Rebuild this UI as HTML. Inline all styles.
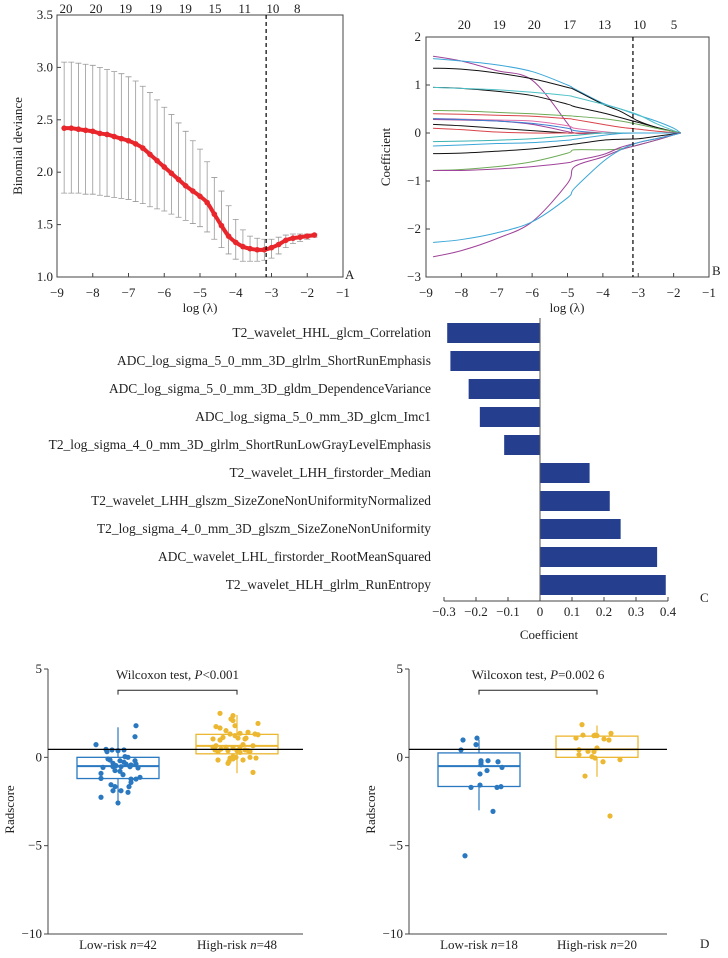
<!DOCTYPE html>
<html><head><meta charset="utf-8">
<style>
html,body{margin:0;padding:0;background:#fff}
svg{display:block}
text{font-family:"Liberation Serif",serif;fill:#222}
</style></head>
<body>
<svg id="fig" width="728" height="958" viewBox="0 0 728 958" xmlns="http://www.w3.org/2000/svg"></svg>
<script>
// ---------- Panel A data ----------
const aLambda=[-8.8,-8.6,-8.4,-8.2,-8.0,-7.8,-7.6,-7.4,-7.2,-7.0,-6.8,-6.6,-6.4,-6.2,-6.0,-5.8,-5.6,-5.4,-5.2,-5.0,-4.8,-4.6,-4.4,-4.2,-4.0,-3.8,-3.6,-3.4,-3.2,-3.0,-2.8,-2.6,-2.4,-2.2,-2.0,-1.8];
const aMean=[2.42,2.42,2.41,2.40,2.39,2.37,2.36,2.34,2.32,2.30,2.27,2.23,2.17,2.11,2.05,1.99,1.93,1.87,1.82,1.77,1.71,1.60,1.49,1.39,1.33,1.29,1.27,1.26,1.26,1.28,1.31,1.35,1.37,1.38,1.39,1.40];
const aUpper=[3.05,3.05,3.04,3.03,3.02,3.00,2.98,2.96,2.94,2.91,2.87,2.82,2.76,2.69,2.62,2.55,2.47,2.39,2.30,2.22,2.10,1.95,1.82,1.68,1.55,1.45,1.39,1.37,1.36,1.36,1.38,1.40,1.41,1.41,1.41,1.41];
const aLower=[1.80,1.80,1.80,1.79,1.79,1.78,1.77,1.76,1.75,1.74,1.72,1.70,1.67,1.65,1.63,1.60,1.57,1.54,1.51,1.48,1.43,1.36,1.28,1.22,1.17,1.15,1.15,1.15,1.16,1.18,1.22,1.28,1.32,1.34,1.36,1.38];
const aTopLabels=["20","20","19","19","19","15","11","10","8"];
const aTopPos=[-8.75,-7.91,-7.08,-6.24,-5.41,-4.58,-3.75,-2.96,-2.28];
const aYTicks=[1.0,1.5,2.0,2.5,3.0,3.5];
const xTicksLog=[-9,-8,-7,-6,-5,-4,-3,-2,-1];
const lambdaMin=-3.15;
// ---------- Panel B data ----------
const bLambda=[-8.8,-8,-7,-6,-5,-4.8,-4,-3.5,-3,-2.5,-2,-1.8];
const bColors=["#a0439a","#3ba6d8","#111","#111","#4cc1c6","#6dab57","#d9434a","#e06da8","#a0439a","#3a7fd0","#111","#d9434a","#3bb3b3","#3ba6d8","#111","#6dab57","#a0439a","#a0439a","#3ba6d8"];
const bPaths=[
[1.6,1.5,1.3,1.1,0.2,0,0,0,0,0,0,0],
[1.55,1.5,1.42,1.28,1.0,0.92,0.62,0.5,0.37,0.25,0.1,0],
[1.35,1.33,1.25,1.13,0.95,0.9,0.6,0.45,0.25,0.12,0.03,0],
[0.95,0.93,0.87,0.78,0.6,0.55,0.42,0.32,0.22,0.12,0.03,0],
[0.95,0.93,0.9,0.85,0.78,0.75,0.6,0.5,0.38,0.2,0.05,0],
[0.47,0.46,0.43,0.4,0.36,0.35,0.3,0.25,0.18,0.1,0.03,0],
[0.4,0.39,0.37,0.35,0.3,0.28,0.18,0.12,0.08,0.04,0.01,0],
[0.3,0.29,0.27,0.25,0.15,0.1,0.03,0,0,0,0,0],
[0.28,0.27,0.25,0.18,0.03,0,0,0,0,0,0,0],
[0.3,0.28,0.25,0.2,0.1,0.05,0,0,0,0,0,0],
[0.18,0.15,0.1,0.05,0,0,0,0,0,0,0,0],
[0.1,0.07,0.02,0,0,0,0,0,0,0,0,0],
[-0.18,-0.17,-0.15,-0.12,-0.06,-0.05,0,0,0,0,0,0],
[-0.27,-0.25,-0.22,-0.2,-0.15,-0.13,-0.05,-0.01,0,0,0,0],
[-0.43,-0.42,-0.38,-0.33,-0.25,-0.23,-0.15,-0.13,-0.12,-0.07,-0.02,0],
[-0.78,-0.76,-0.7,-0.6,-0.42,-0.35,-0.35,-0.33,-0.25,-0.15,-0.04,0],
[-0.78,-0.78,-0.75,-0.7,-0.62,-0.58,-0.45,-0.3,-0.2,-0.12,-0.03,0],
[-2.58,-2.45,-2.2,-1.85,-1.05,-0.7,-0.5,-0.35,-0.25,-0.15,-0.04,0],
[-2.28,-2.22,-2.08,-1.85,-1.35,-1.15,-0.6,-0.35,-0.2,-0.12,-0.04,0]];
const bTopLabels=["20","19","20","17","13","10","5"];
const bTopPos=[-7.92,-6.93,-5.94,-4.94,-3.95,-2.96,-1.99];
const bYTicks=[-3,-2,-1,0,1,2];
// ---------- Panel C data ----------
const cFeatures=["T2_wavelet_HHL_glcm_Correlation","ADC_log_sigma_5_0_mm_3D_glrlm_ShortRunEmphasis","ADC_log_sigma_5_0_mm_3D_gldm_DependenceVariance","ADC_log_sigma_5_0_mm_3D_glcm_Imc1","T2_log_sigma_4_0_mm_3D_glrlm_ShortRunLowGrayLevelEmphasis","T2_wavelet_LHH_firstorder_Median","T2_wavelet_LHH_glszm_SizeZoneNonUniformityNormalized","T2_log_sigma_4_0_mm_3D_glszm_SizeZoneNonUniformity","ADC_wavelet_LHL_firstorder_RootMeanSquared","T2_wavelet_HLH_glrlm_RunEntropy"];
const cValues=[-0.29,-0.28,-0.223,-0.188,-0.112,0.155,0.218,0.252,0.366,0.393];
const cTicks=[-0.3,-0.2,-0.1,0,0.1,0.2,0.3,0.4];
// ---------- Panel D data ----------
const d1LowVals=[1.79,1.17,0.72,0.45,0.32,0.42,0.38,0.42,-0.09,-0.15,0.04,0,-0.19,-0.34,-0.38,-0.57,-0.53,-0.47,-0.53,-0.38,-0.43,-0.6,-0.75,-0.79,-0.98,-0.91,-1.19,-1.23,-1.23,-1.13,-1.55,-1.66,-1.89,-1.89,-1.66,-1.98,-2.26,-2.58,-1.42,-0.28,-0.53,-0.19];
const d1LowJit=[18,17,-22,-12,-11,-6,0,6,-10,-8,7,10,17,-5,18,-15,-5,-2,3,8,13,20,-3,2,5,-17,-17,13,18,22,-7,-3,-5,3,11,10,-17,0,13,6,12,2];
const d1HighVals=[2.49,2.36,1.92,1.74,1.66,1.51,2.08,1.79,1.32,1.36,1.42,1.32,1.28,1.04,0.98,1.23,1.04,1.09,0.66,0.57,0.53,0.57,0.66,0.42,0.47,0.38,0.38,0.42,0.34,0.32,0.04,0.28,0.38,-0.04,0,-0.15,-0.04,-0.23,-0.15,-0.34,-0.09,-0.85,0,0.57,2.17,1.09,0.72,1.13];
const d1HighJit=[-17,-4,21,-21,-17,-11,-4,-2,-7,3,11,18,21,-24,-17,-2,8,9,-21,-11,-4,3,16,-22,-16,-9,0,8,13,-19,-4,3,11,-7,-1,6,19,-8,-19,-9,-4,16,13,-24,-6,1,6,-14];
const d2LowVals=[0.98,1.09,0.72,0.42,-0.28,-0.19,-0.19,-0.25,-0.42,-0.57,-0.75,-0.94,-1.57,-1.7,-1.7,-1.66,-3.06,-5.57];
const d2LowJit=[-16,-2,-3,-18,2,2,9,19,2,23,8,1,1,-8,18,22,14,-14];
const d2HighVals=[1.85,1.09,1.26,1.23,1.26,1.04,0.98,1.36,0.43,0.34,0.32,0.53,0.15,0.04,-0.04,-0.25,-0.13,-1.06,-3.32,1.23];
const d2HighJit=[-15,-21,-14,-3,-2,7,12,14,-18,-9,-3,0,-18,-5,-2,6,23,-12,13,0];
// box stats: [whiskerLow, q1, median, q3, whiskerHigh]
const d1LowBox=[-2.5,-1.2,-0.5,0,1.7];
const d1HighBox=[-0.9,0.2,0.65,1.3,2.4];
const d2LowBox=[-3.0,-1.65,-0.5,0.25,1.0];
const d2HighBox=[-1.1,0,0.45,1.2,1.8];
const dThreshold=0.45;
const dYTicks=[-10,-5,0,5];

const NS="http://www.w3.org/2000/svg";
const svg=document.getElementById('fig');
function mk(tag,attrs,parent){const e=document.createElementNS(NS,tag);for(const k in attrs)e.setAttribute(k,attrs[k]);(parent||svg).appendChild(e);return e;}
function txt(x,y,s,size,anchor,parent){const t=mk('text',{x:x,y:y,'font-size':size,'text-anchor':anchor||'middle'},parent);t.textContent=s;return t;}
function minus(v){return v<0?'\u2212'+String(-v):String(v);}
function smooth(pts){let d=`M${pts[0][0]},${pts[0][1]}`;for(let i=0;i<pts.length-1;i++){const p0=pts[Math.max(0,i-1)],p1=pts[i],p2=pts[i+1],p3=pts[Math.min(pts.length-1,i+2)];
const c1x=p1[0]+(p2[0]-p0[0])/6,c1y=p1[1]+(p2[1]-p0[1])/6,c2x=p2[0]-(p3[0]-p1[0])/6,c2y=p2[1]-(p3[1]-p1[1])/6;d+=`C${c1x},${c1y} ${c2x},${c2y} ${p2[0]},${p2[1]}`;}return d;}

// ===== Panel A =====
(function(){
const g=mk('g',{});


const L=57,R=343,T=15,B=277;
const x=v=>L+(v+9)/8*(R-L);
const y=v=>B-(v-1)/2.5*(B-T);
const box=mk('rect',{x:L,y:T,width:R-L,height:B-T,fill:'none',stroke:'#444','stroke-width':1},g);


xTicksLog.forEach(v=>{mk('line',{x1:x(v),x2:x(v),y1:B,y2:B-4,stroke:'#444'},g);
const t=txt(x(v),297,minus(v),13,'middle',g);

});
aYTicks.forEach(v=>{mk('line',{x1:L,x2:L+4,y1:y(v),y2:y(v),stroke:'#444'},g);
const t=txt(L-4,y(v)+4,v.toFixed(1),13,'end',g);

});
aTopLabels.forEach((s,i)=>{const t=txt(x(aTopPos[i]),13,s,13,'middle',g);

});
aLambda.forEach((l,i)=>{const xx=x(l);
const eb=mk('path',{d:`M${xx},${y(aLower[i])}V${y(aUpper[i])}M${xx-3},${y(aUpper[i])}H${xx+3}M${xx-3},${y(aLower[i])}H${xx+3}`,stroke:'#999','stroke-width':0.8,fill:'none'},g);

});
const pl=mk('path',{d:smooth(aLambda.map((l,i)=>[x(l),y(aMean[i])])),fill:'none',stroke:'#e8262b','stroke-width':4},g);


aLambda.forEach((l,i)=>{const c=mk('circle',{cx:x(l),cy:y(aMean[i]),r:2.8,fill:'#e8262b'},g);

});
const dl=mk('line',{x1:x(lambdaMin),x2:x(lambdaMin),y1:T,y2:B,stroke:'#000','stroke-dasharray':'4,3','stroke-width':1.2},g);


const xt=txt(200,312,'log (\u03bb)',13,'middle',g);


const yt=txt(0,0,'Binomial deviance',13,'middle',g);
yt.setAttribute('transform','translate(22,146) rotate(-90)');


const pa=txt(345,279,'A',13,'start',g);


})();

// ===== Panel B =====
(function(){
const g=mk('g',{});


const L=426,R=709,T=37,B=277;
const x=v=>L+(v+9)/8*(R-L);
const y=v=>B-(v+3)/5*(B-T);
const box=mk('rect',{x:L,y:T,width:R-L,height:B-T,fill:'none',stroke:'#444','stroke-width':1},g);


xTicksLog.forEach(v=>{mk('line',{x1:x(v),x2:x(v),y1:B,y2:B-4,stroke:'#444'},g);
const t=txt(x(v),297,minus(v),13,'middle',g);

});
bYTicks.forEach(v=>{mk('line',{x1:L,x2:L+4,y1:y(v),y2:y(v),stroke:'#444'},g);
const t=txt(L-5,y(v)+4,minus(v),13,'end',g);

});
bTopLabels.forEach((s,i)=>{const t=txt(x(bTopPos[i]),29,s,13,'middle',g);

});
const zl=mk('line',{x1:x(-5),x2:x(-1.8),y1:y(0),y2:y(0),stroke:'#e0313a','stroke-width':1},g);


bPaths.forEach((p,k)=>{const pl=mk('path',{d:smooth(bLambda.map((l,i)=>[x(l),y(p[i])])),fill:'none',stroke:bColors[k],'stroke-width':1},g);

});
const dl=mk('line',{x1:x(lambdaMin),x2:x(lambdaMin),y1:T,y2:B,stroke:'#000','stroke-dasharray':'4,3','stroke-width':1.2},g);


const xt=txt(567,312,'log (\u03bb)',13,'middle',g);


const yt=txt(0,0,'Coefficient',13,'middle',g);
yt.setAttribute('transform','translate(390,157) rotate(-90)');


const pb=txt(712,275,'B',13,'start',g);


})();

// ===== Panel C =====
(function(){
const g=mk('g',{});


const x0=540, scale=320;
const x=v=>x0+v*scale;
const rowTop=323, pitch=28, bh=20, axisY=601;
cFeatures.forEach((f,i)=>{const v=cValues[i];const yy=rowTop+i*pitch;
const r=mk('rect',{x:Math.min(x(v),x0),y:yy,width:Math.abs(x(v)-x0),height:bh,fill:'#253f8e'},g);


const t=txt(431,yy+bh/2+4,f,13.4,'end',g);

});
const vl=mk('line',{x1:x0,x2:x0,y1:318,y2:axisY,stroke:'#555'},g);


const ax=mk('line',{x1:x(-0.3),x2:x(0.4),y1:axisY,y2:axisY,stroke:'#444'},g);


cTicks.forEach(v=>{mk('line',{x1:x(v),x2:x(v),y1:axisY,y2:axisY-4,stroke:'#444'},g);
const s=v===0?'0':minus(Math.round(v*10)/10);
const t=txt(x(v),616,s,13,'middle',g);

});
const xt=txt(549,639,'Coefficient',13,'middle',g);


const pc=txt(700,602,'C',13,'start',g);


})();

// ===== Panel D =====
function boxPlot(opts){
const g=mk('g',{});


const L=opts.L,R=opts.R,T=669,B=934;
const y=v=>B-(v+10)/15*(B-T);
const blue='#2a78bf',yel='#ecb731';
const ya=mk('line',{x1:L,x2:L,y1:T,y2:B,stroke:'#444'},g);


const xa=mk('line',{x1:L,x2:R,y1:B,y2:B,stroke:'#444'},g);


dYTicks.forEach(v=>{mk('line',{x1:L-4,x2:L,y1:y(v),y2:y(v),stroke:'#444'},g);
const t=txt(L-6,y(v)+4,minus(v),13,'end',g);

});
const groups=[[opts.c1,opts.box1,opts.v1,opts.j1,blue],[opts.c2,opts.box2,opts.v2,opts.j2,yel]];
groups.forEach(([cx,bx,vals,jit,col])=>{
const w=mk('line',{x1:cx,x2:cx,y1:y(bx[0]),y2:y(bx[4]),stroke:col,'stroke-width':1.2},g);


const r=mk('rect',{x:cx-41,y:y(bx[3]),width:82,height:y(bx[1])-y(bx[3]),fill:'#fff',stroke:col,'stroke-width':1.3},g);


const m=mk('line',{x1:cx-41,x2:cx+41,y1:y(bx[2]),y2:y(bx[2]),stroke:col,'stroke-width':2},g);


vals.forEach((v,i)=>{const c=mk('circle',{cx:cx+jit[i],cy:y(v),r:2.6,fill:col},g);

});
});
const th=mk('line',{x1:L,x2:R,y1:y(dThreshold),y2:y(dThreshold),stroke:'#000','stroke-width':1.2},g);


const by=y(3.8),bt=y(3.55);
const br=mk('path',{d:`M${opts.c1},${bt}V${by}H${opts.c2}V${bt}`,fill:'none',stroke:'#222'},g);


const tt=mk('text',{x:(opts.c1+opts.c2)/2,y:679,'font-size':13,'text-anchor':'middle'},g);
tt.innerHTML=opts.title;


const l1=mk('text',{x:opts.c1,y:949,'font-size':13,'text-anchor':'middle'},g);
l1.innerHTML=opts.lab1;


const l2=mk('text',{x:opts.c2,y:949,'font-size':13,'text-anchor':'middle'},g);
l2.innerHTML=opts.lab2;


const yt=txt(0,0,'Radscore',13,'middle',g);
yt.setAttribute('transform',`translate(${L-34},${y(-2.5)+8}) rotate(-90)`);


}
boxPlot({name:'panel-d-train-boxplot',L:48,R:303,c1:118,c2:237,box1:d1LowBox,box2:d1HighBox,v1:d1LowVals,j1:d1LowJit,v2:d1HighVals,j2:d1HighJit,
title:'Wilcoxon test, <tspan font-style="italic">P</tspan>&lt;0.001',lab1:'Low-risk <tspan font-style="italic">n</tspan>=42',lab2:'High-risk <tspan font-style="italic">n</tspan>=48'});
boxPlot({name:'panel-d-test-boxplot',L:409,R:667,c1:479,c2:597,box1:d2LowBox,box2:d2HighBox,v1:d2LowVals,j1:d2LowJit,v2:d2HighVals,j2:d2HighJit,
title:'Wilcoxon test, <tspan font-style="italic">P</tspan>=0.002 6',lab1:'Low-risk <tspan font-style="italic">n</tspan>=18',lab2:'High-risk <tspan font-style="italic">n</tspan>=20'});
const pd=txt(700,948,'D',13,'start');


</script>
</body></html>
